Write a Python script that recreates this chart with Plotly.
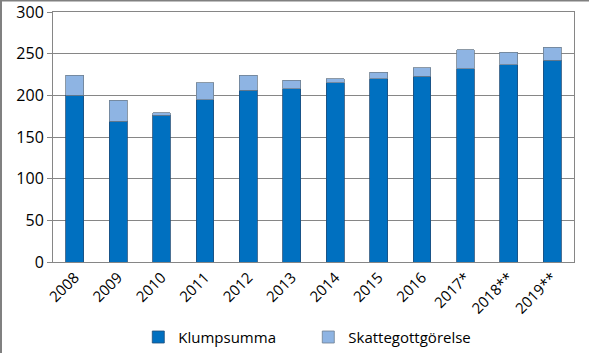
import plotly.graph_objects as go

years = ["2008", "2009", "2010", "2011", "2012", "2013", "2014", "2015", "2016", "2017*", "2018**", "2019**"]
klumpsumma = [200, 169, 176, 195, 206, 208, 215, 220, 223, 232, 237, 242]
skattegottgorelse = [24, 25, 3, 20, 18, 10, 5, 8, 10, 23, 15, 16]
y_ticks = [0, 50, 100, 150, 200, 250, 300]

FONT = "Open Sans"

fig = go.Figure()
fig.add_bar(x=years, y=klumpsumma, name="Klumpsumma",
            marker=dict(color="#0070C0", line=dict(color="#1F4E79", width=0.8)))
fig.add_bar(x=years, y=skattegottgorelse, name="Skattegottgörelse",
            marker=dict(color="#8EB4E3", line=dict(color="#6F7F90", width=0.8)))

# plot area: x 53..574 px, y 12..262 px
fig.update_layout(
    barmode="stack",
    bargap=0.59,
    width=589, height=353,
    margin=dict(l=53, r=15, t=12, b=91, autoexpand=False),
    paper_bgcolor="white", plot_bgcolor="white",
    font=dict(family=FONT, size=15, color="#000000"),
    legend=dict(orientation="h", x=0.49, xanchor="center", y=-0.235, yanchor="top",
                font=dict(size=15), entrywidth=125, entrywidthmode="pixels",
                traceorder="normal", bgcolor="rgba(0,0,0,0)"),
    xaxis=dict(tickangle=-45, showline=True, linecolor="#868686", linewidth=1,
               mirror=True, ticks="", tickfont=dict(size=15), automargin=False),
    yaxis=dict(range=[0, 300], tickvals=y_ticks, showgrid=True, gridcolor="#868686",
               gridwidth=1, showline=True, linecolor="#868686", linewidth=1,
               mirror=True, ticks="outside", ticklen=5, tickcolor="#868686",
               tickfont=dict(size=16), zeroline=False, automargin=False),
    shapes=[
        dict(type="line", xref="paper", yref="paper",
             x0=-52/521, x1=-52/521, y0=1 + 12/250, y1=-100/250,
             line=dict(color="#808080", width=2)),
        dict(type="line", xref="paper", yref="paper",
             x0=-53/521, x1=1 + 20/521, y0=1 + 11.3/250, y1=1 + 11.3/250,
             line=dict(color="#808080", width=1.5)),
    ],
)

fig.write_html("out.html")
